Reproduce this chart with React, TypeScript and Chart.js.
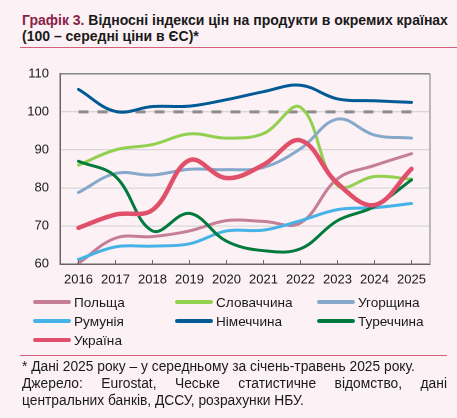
import React, { useEffect, useRef } from "react";
import { Chart, registerables } from "chart.js";

Chart.register(...registerables);

const years = ["2016", "2017", "2018", "2019", "2020", "2021", "2022", "2023", "2024", "2025"];
const euLevel = [100, 100, 100, 100, 100, 100, 100, 100, 100, 100];
const poland = [60.2, 66.8, 67.2, 68.7, 71.4, 71.2, 70.8, 82.4, 85.9, 89.0];
const slovakia = [86.0, 90.0, 91.4, 94.2, 93.1, 94.3, 101.2, 80.6, 83.0, 82.3];
const hungary = [78.8, 83.8, 83.4, 84.9, 84.8, 85.4, 90.3, 98.1, 93.9, 93.1];
const romania = [61.2, 64.5, 64.7, 65.3, 68.7, 68.9, 71.4, 74.3, 74.8, 75.9];
const germany = [105.9, 100.1, 101.4, 101.5, 103.2, 105.3, 107.0, 103.4, 102.9, 102.5];
const turkey = [87.0, 83.0, 68.7, 73.3, 66.0, 63.5, 64.0, 71.4, 75.1, 82.1];
const ukraine = [69.5, 73.0, 74.2, 87.3, 82.6, 86.1, 92.5, 81.2, 75.5, 85.0];

const seriesNames = ["Польща", "Словаччина", "Угорщина", "Румунія", "Німеччина", "Туреччина", "Україна"];
const seriesData = [poland, slovakia, hungary, romania, germany, turkey, ukraine];
const seriesColors = ["#C47E96", "#92D050", "#86A8CB", "#45B3E7", "#005A96", "#007A3D", "#E0506A"];
const seriesWidths = [3, 3, 3, 3, 3, 3, 4.5];

const yTicks = [60, 70, 80, 90, 100, 110];

const BG = "#FCF1F4";
const FONT = "'Liberation Sans', Arial, sans-serif";
const CANVAS_TOP = 55;
const CANVAS_H = 240;
const PLOT_LEFT = 60;
const PLOT_RIGHT = 430;
const PLOT_TOP = 63;
const PLOT_BOTTOM = 264;

const framePlugin = {
  id: "frame",
  afterDatasetsDraw(chart: any) {
    const { ctx, chartArea, scales } = chart;
    ctx.save();
    ctx.strokeStyle = "#7A7A7A";
    ctx.lineWidth = 1.3;
    ctx.beginPath();
    ctx.moveTo(chartArea.left, chartArea.top);
    ctx.lineTo(chartArea.right, chartArea.top);
    ctx.stroke();
    ctx.strokeStyle = "#A8A8A8";
    ctx.lineWidth = 1.6;
    ctx.beginPath();
    ctx.moveTo(chartArea.right, chartArea.top);
    ctx.lineTo(chartArea.right, chartArea.bottom);
    ctx.stroke();
    const xs = scales.x;
    ctx.strokeStyle = "#6A6A6A";
    ctx.lineWidth = 1;
    for (let i = 0; i < xs.ticks.length; i++) {
      const x = xs.getPixelForTick(i);
      ctx.beginPath();
      ctx.moveTo(x, chartArea.bottom);
      ctx.lineTo(x, chartArea.bottom - 4);
      ctx.stroke();
    }
    ctx.restore();
  },
};

function ChartCanvas() {
  const ref = useRef<HTMLCanvasElement | null>(null);
  useEffect(() => {
    if (!ref.current) return;
    const datasets: any[] = seriesNames.map((name, i) => ({
      label: name,
      data: seriesData[i],
      borderColor: seriesColors[i],
      backgroundColor: seriesColors[i],
      borderWidth: seriesWidths[i],
      pointRadius: 0,
      tension: 0.38,
      fill: false,
      borderCapStyle: "round",
      order: seriesNames.length - i,
    }));
    datasets.push({
      label: "ЄС",
      data: euLevel,
      borderColor: "#8C8C8C",
      borderWidth: 3,
      borderDash: [10, 9],
      pointRadius: 0,
      tension: 0,
      fill: false,
      order: 20,
    });
    const chart = new Chart(ref.current, {
      type: "line",
      data: { labels: years, datasets },
      plugins: [framePlugin],
      options: {
        animation: false,
        responsive: false,
        maintainAspectRatio: false,
        devicePixelRatio: 2,
        layout: {
          padding: { left: 0, right: 457 - PLOT_RIGHT, top: PLOT_TOP - CANVAS_TOP, bottom: 0 },
        },
        plugins: {
          legend: { display: false },
          tooltip: { enabled: false },
          title: { display: false },
        },
        scales: {
          x: {
            type: "category",
            offset: true,
            grid: { display: false, drawTicks: false },
            border: { color: "#666666", width: 1.5 },
            ticks: {
              color: "#1A1A1A",
              padding: 8,
              font: { family: FONT, size: 13 },
              maxRotation: 0,
              autoSkip: false,
            },
            afterFit(scale: any) {
              scale.height = CANVAS_TOP + CANVAS_H - PLOT_BOTTOM;
            },
          },
          y: {
            min: 60,
            max: 110,
            afterBuildTicks(scale: any) {
              scale.ticks = yTicks.map((v) => ({ value: v }));
            },
            grid: {
              drawTicks: false,
              color: (c: any) =>
                c.tick && c.tick.value > 60 && c.tick.value < 110 ? "#D9D6D8" : "rgba(0,0,0,0)",
              lineWidth: 1.3,
            },
            border: { color: "#666666", width: 1.5 },
            ticks: {
              color: "#1A1A1A",
              padding: 11,
              font: { family: FONT, size: 13 },
            },
            afterFit(scale: any) {
              scale.width = PLOT_LEFT;
            },
          },
        },
      },
    });
    return () => chart.destroy();
  }, []);
  return (
    <canvas
      ref={ref}
      width={457}
      height={CANVAS_H}
      style={{ position: "absolute", left: 0, top: CANVAS_TOP, width: 457, height: CANVAS_H }}
    />
  );
}

const legendCols = [33, 175, 317];
const legendRows = [302, 321, 340];

export default function App() {
  return (
    <div
      style={{
        position: "fixed",
        left: 0,
        top: 0,
        width: 457,
        height: 418,
        background: BG,
        fontFamily: FONT,
        color: "#1A1A1A",
        overflow: "hidden",
      }}
    >
      <div
        style={{
          position: "absolute",
          left: 22,
          top: 12,
          width: 435,
          fontSize: 14,
          lineHeight: "16px",
          fontWeight: "bold",
          whiteSpace: "nowrap",
        }}
      >
        <span style={{ color: "#8A1F4A" }}>Графік 3.</span> Відносні індекси цін на продукти в окремих країнах
        <br />
        (100 – середні ціни в ЄС)*
      </div>
      <div style={{ position: "absolute", left: 20, top: 47, width: 437, height: 1, background: "#D4607A" }} />
      <ChartCanvas />
      {seriesNames.map((name, i) => {
        const col = i % 3;
        const row = Math.floor(i / 3);
        return (
          <div
            key={name}
            style={{
              position: "absolute",
              left: legendCols[col],
              top: legendRows[row] - 8,
              height: 16,
              display: "flex",
              alignItems: "center",
              fontSize: 13.6,
              whiteSpace: "nowrap",
            }}
          >
            <span
              style={{
                display: "inline-block",
                width: 38,
                height: 4,
                borderRadius: 2,
                background: seriesColors[i],
                marginRight: 3,
              }}
            />
            <span>{name}</span>
          </div>
        );
      })}
      <div style={{ position: "absolute", left: 20, top: 355, width: 427, height: 1, background: "#D4607A" }} />
      <div
        style={{
          position: "absolute",
          left: 22,
          top: 358,
          width: 425,
          fontSize: 13.8,
          lineHeight: "17px",
        }}
      >
        <div style={{ whiteSpace: "nowrap" }}>* Дані 2025 року – у середньому за січень-травень 2025 року.</div>
        <div style={{ textAlign: "justify", textAlignLast: "justify" as any, whiteSpace: "nowrap" }}>
          <span style={{ display: "flex", justifyContent: "space-between" }}>
            <span>Джерело:</span>
            <span>Eurostat,</span>
            <span>Чеське</span>
            <span>статистичне</span>
            <span>відомство,</span>
            <span>дані</span>
          </span>
        </div>
        <div style={{ whiteSpace: "nowrap" }}>центральних банків, ДССУ, розрахунки НБУ.</div>
      </div>
    </div>
  );
}
